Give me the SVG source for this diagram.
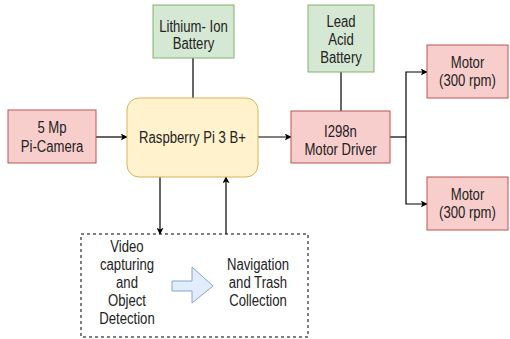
<svg xmlns="http://www.w3.org/2000/svg" width="510" height="339" viewBox="0 0 510 339">
<defs>
<marker id="arr" viewBox="0 0 10 10" refX="9" refY="5" markerWidth="7" markerHeight="7" markerUnits="userSpaceOnUse" orient="auto">
<path d="M0,0 L10,5 L0,10 L2.5,5 Z" fill="#000"/>
</marker>
</defs>
<style>
.red{fill:#f8cecc;stroke:#b85450;stroke-width:1}
.green{fill:#d5e8d4;stroke:#82b366;stroke-width:1}
.yellow{fill:#fff2cc;stroke:#d6b656;stroke-width:1}
.line{fill:none;stroke:#000;stroke-width:1.2}
.arrow{fill:none;stroke:#000;stroke-width:1.2;marker-end:url(#arr)}
text{font-family:"Liberation Sans",Arial,sans-serif;font-size:16px;fill:#222;text-anchor:middle;transform-box:fill-box;transform-origin:center;transform:scaleX(0.82)}
</style>
<rect x="0" y="0" width="510" height="339" fill="#fff"/>
<g id="connectors">
<path class="line" d="M193,58 V98"/>
<path class="line" d="M341,72 V111"/>
<path class="arrow" d="M96,137 H127"/>
<path class="arrow" d="M258,137 H291"/>
<path class="line" d="M390,137 H406"/>
<path class="arrow" d="M406,137 V72 H427"/>
<path class="arrow" d="M406,137 V204 H427"/>
<path class="arrow" d="M160,177 V234"/>
<path class="arrow" d="M226,234 V177"/>
</g>
<g id="lithium-battery">
<rect class="green" x="153" y="5" width="81" height="53"/>
<text x="193.5" y="32">Lithium- Ion</text>
<text x="193.5" y="49">Battery</text>
</g>
<g id="lead-battery">
<rect class="green" x="308" y="5" width="66" height="67"/>
<text x="341" y="27">Lead</text>
<text x="341" y="45">Acid</text>
<text x="341" y="63">Battery</text>
</g>
<g id="camera">
<rect class="red" x="8" y="110" width="88" height="53"/>
<text x="52" y="133">5 Mp</text>
<text x="52" y="152">Pi-Camera</text>
</g>
<g id="raspberry">
<rect class="yellow" x="127" y="98" width="131" height="79" rx="12" ry="12"/>
<text x="192.5" y="143">Raspberry Pi 3 B+</text>
</g>
<g id="driver">
<rect class="red" x="291" y="111" width="99" height="52"/>
<text x="340.5" y="137">I298n</text>
<text x="340.5" y="155">Motor Driver</text>
</g>
<g id="motor1">
<rect class="red" x="427" y="45" width="81" height="53"/>
<text x="467.5" y="68">Motor</text>
<text x="467.5" y="86">(300 rpm)</text>
</g>
<g id="motor2">
<rect class="red" x="427" y="177" width="81" height="53"/>
<text x="467.5" y="200">Motor</text>
<text x="467.5" y="218">(300 rpm)</text>
</g>
<g id="processing">
<rect x="81" y="234" width="227" height="103" fill="none" stroke="#000" stroke-width="1" stroke-dasharray="3,3"/>
<text x="127" y="252">Video</text>
<text x="127" y="270">capturing</text>
<text x="127" y="288">and</text>
<text x="127" y="306">Object</text>
<text x="127" y="324">Detection</text>
<path d="M172,281 H192 V267 L213,286 L192,303 V291 H172 Z" fill="#dae8fc" stroke="#6c8ebf" stroke-width="1" opacity="0.8"/>
<text x="258" y="270">Navigation</text>
<text x="258" y="288">and Trash</text>
<text x="258" y="306">Collection</text>
</g>
</svg>
